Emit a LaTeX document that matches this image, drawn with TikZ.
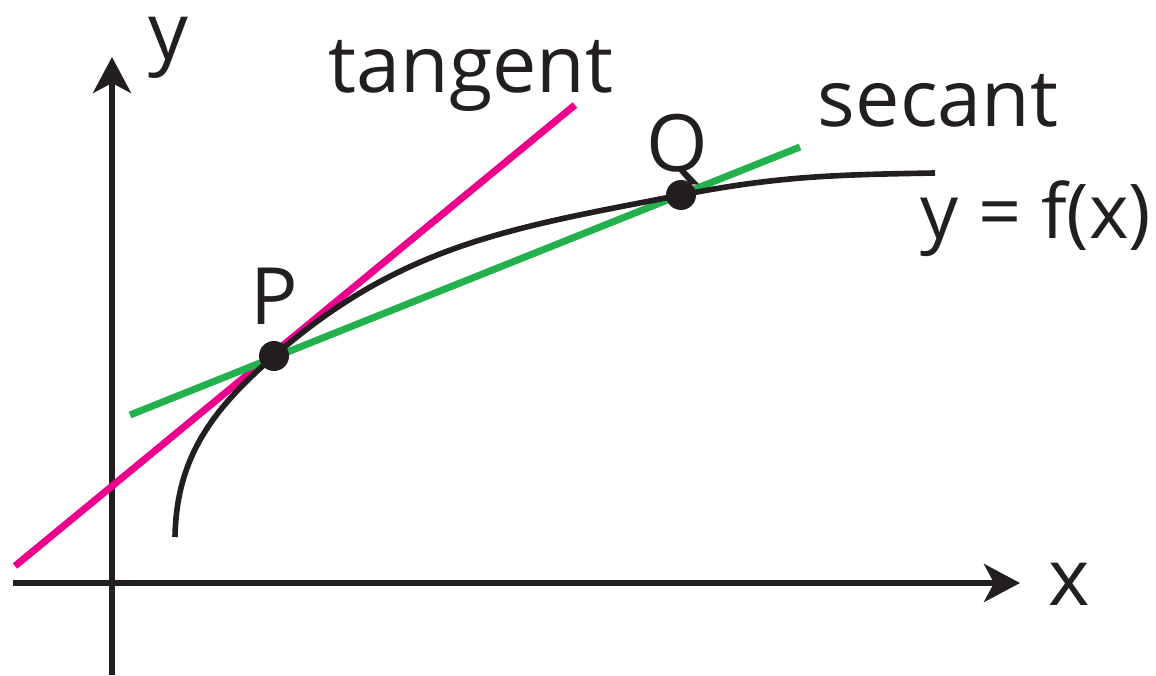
\documentclass[tikz,border=0pt]{standalone}
\usepackage{fontspec}
\setmainfont{Open Sans}
\usepackage{tikz}
\usetikzlibrary{arrows.meta}
\definecolor{inkblack}{HTML}{231F20}
\definecolor{tanmagenta}{HTML}{EC008C}
\definecolor{secgreen}{HTML}{22B14C}

\begin{document}
\begin{tikzpicture}[
          axis/.style={line width=1.55pt, inkblack,
            -{Stealth[length=0.36cm, width=0.38cm, inset=0.1cm]}},
          fcurve/.style={line width=1.6pt, inkblack},
          tanline/.style={line width=2pt, tanmagenta},
          secline/.style={line width=2pt, secgreen},
          dot/.style={circle, fill=inkblack, inner sep=0pt, minimum size=0.3cm},
          lab/.style={anchor=base, text=inkblack, inner sep=0pt,
            font=\fontsize{22.5}{27}\selectfont}
        ]
        \useasboundingbox (0,0) rectangle (11.56,6.75);
        % axes, origin at (1.12,0.92)
        \coordinate (xl) at (0.13,0.92);
        \coordinate (xr) at (10.20,0.92);
        \coordinate (yb) at (1.12,0);
        \coordinate (yt) at (1.12,6.18);
        \draw[axis] (xl) -- (xr);
        \draw[axis] (yb) -- (yt);

        % points on the curve
        \coordinate (c0) at (1.75,1.38);
        \coordinate (p) at (2.74,3.19);
        \coordinate (q) at (6.81,4.80);
        \coordinate (c1) at (9.35,5.02);

        % tangent at P and secant through P and Q
        \coordinate (t0) at (0.15,1.09);
        \coordinate (t1) at (5.75,5.70);
        \coordinate (s0) at (1.30,2.60);
        \coordinate (s1) at (8.00,5.28);
        \draw[tanline] (t0) -- (t1);
        \draw[secline] (s0) -- (s1);

        \draw[fcurve] (c0) to[out=89, in=221] (p)
            to[out=41, in=191] (q)
            to[out=11, in=181] (c1);

        \node[dot] (P) at (p) {};
        \node[dot] (Q) at (q) {};

        \node[lab] (ylab) at (1.68,6.15) {y};
        \node[lab] (xlab) at (10.69,0.70) {x};
        \node[lab] (tanlab) at (4.71,5.82) {tangent};
        \node[lab] (seclab) at (9.38,5.48) {secant};
        \node[lab, font=\fontsize{21.5}{26}\selectfont] (flab) at (10.36,4.37) {y = f(x)};
        \node[lab] (plab) at (2.74,3.51) {P};
        \node[lab] (qlab) at (6.77,5.03) {Q};
      \end{tikzpicture}
\end{document}
